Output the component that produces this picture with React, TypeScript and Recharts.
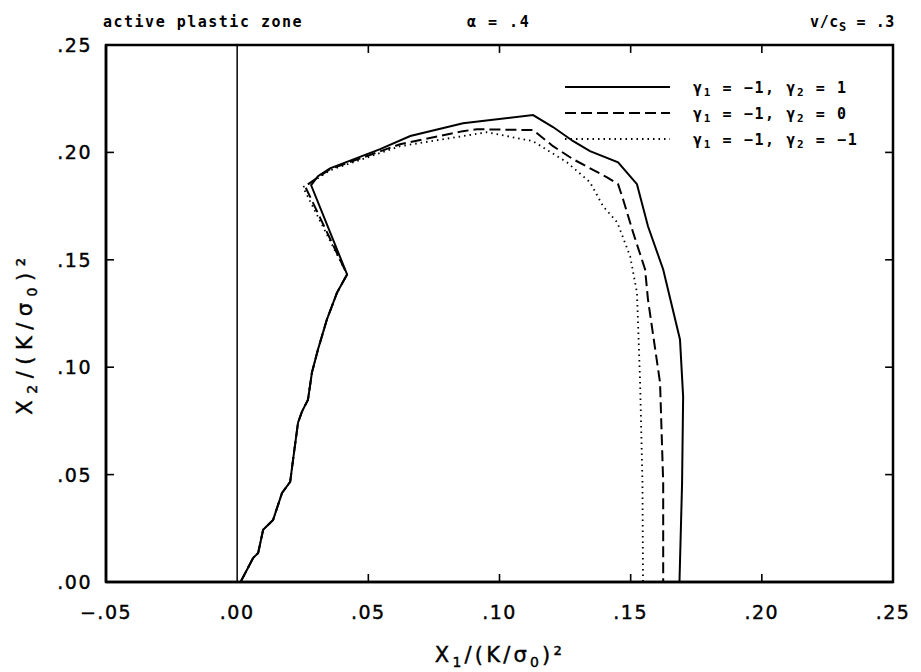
import React from 'react';
import { LineChart, Line, XAxis, YAxis, ReferenceLine, ReferenceArea, Legend } from 'recharts';

// lower branch, shared by all three cases (origin up to the kink)
const lowerX = [0.0013, 0.0061, 0.008, 0.0099, 0.0137, 0.0171, 0.0202, 0.0213, 0.0232, 0.0247, 0.027, 0.0285, 0.0308, 0.0342, 0.0381, 0.0419];
const lowerY = [0, 0.0112, 0.0135, 0.0243, 0.0289, 0.0415, 0.0466, 0.0569, 0.0742, 0.0793, 0.0849, 0.0975, 0.1082, 0.1222, 0.1348, 0.1432];

// gamma2 = 1 (solid)
const solidX = [0.0282, 0.0308, 0.0354, 0.0545, 0.066, 0.0861, 0.1128, 0.1204, 0.1281, 0.1345, 0.1452, 0.1524, 0.1566, 0.1624, 0.1688, 0.17, 0.1696, 0.1686];
const solidY = [0.1847, 0.1889, 0.1926, 0.2015, 0.2076, 0.2136, 0.2174, 0.2118, 0.2052, 0.2006, 0.1954, 0.1852, 0.1656, 0.1455, 0.1129, 0.0863, 0.0462, 0];

// gamma2 = 0 (dashed)
const dashedX = [0.0259, 0.0308, 0.0354, 0.0621, 0.0861, 0.0914, 0.1128, 0.1204, 0.1281, 0.141, 0.1452, 0.1471, 0.1509, 0.1555, 0.1566, 0.1612, 0.1624, 0.1624];
const dashedY = [0.1842, 0.1884, 0.1922, 0.2038, 0.2099, 0.2108, 0.2104, 0.2029, 0.1968, 0.1884, 0.1852, 0.1782, 0.1628, 0.1455, 0.1315, 0.0928, 0.0462, 0];

// gamma2 = -1 (dotted)
const dottedX = [0.0251, 0.0308, 0.0354, 0.0621, 0.0952, 0.1128, 0.1257, 0.1345, 0.1395, 0.1449, 0.1498, 0.1524, 0.1536, 0.1545, 0.1547];
const dottedY = [0.1838, 0.188, 0.1917, 0.2029, 0.2094, 0.2052, 0.1954, 0.1861, 0.1749, 0.1674, 0.1516, 0.1348, 0.0928, 0.0462, 0];

const xTicks = [-0.05, 0, 0.05, 0.1, 0.15, 0.2, 0.25];
const yTicks = [0, 0.05, 0.1, 0.15, 0.2, 0.25];
const innerTicks = [0.05, 0.1, 0.15, 0.2];

const legendItems = [
  { g2: '1', dash: undefined },
  { g2: '0', dash: '11 5' },
  { g2: '−1', dash: '1.5 4' },
];

const toPoints = (xs: number[], ys: number[]) => xs.map((x, i) => ({ x, y: ys[i] }));
const lower = toPoints(lowerX, lowerY);
const solid = [...lower, ...toPoints(solidX, solidY)];
const dashed = [...lower, ...toPoints(dashedX, dashedY)];
const dotted = [...lower, ...toPoints(dottedX, dottedY)];

const isInner = (v: any) => innerTicks.some((t) => Math.abs(Number(v) - t) < 1e-6);

const fmt = (v: number) => {
  const s = Math.abs(v).toFixed(2).replace(/^0/, '');
  return v < 0 ? '−' + s : s;
};

const tickFont = { fontFamily: 'DejaVu Sans, sans-serif', fontSize: 19, letterSpacing: 1.5, fill: '#000', stroke: '#000', strokeWidth: 0.4 };
const monoFont = "'DejaVu Sans Mono', monospace";
const TICK = 8;
// inward tick length on the top / right edges, in axis units (about 8px)
const TICK_X = 0.003;
const TICK_Y = 0.0037;

function BottomTick(props: any) {
  const { x, y, payload } = props;
  return (
    <g>
      {isInner(payload.value) && <path d={`M${x},${y}V${y - TICK}`} stroke="#000" strokeWidth={1.6} fill="none" />}
      <text x={x} y={y + 37} textAnchor="middle" {...tickFont}>{fmt(payload.value)}</text>
    </g>
  );
}

function LeftTick(props: any) {
  const { x, y, payload } = props;
  return (
    <g>
      {isInner(payload.value) && <path d={`M${x},${y}H${x + TICK}`} stroke="#000" strokeWidth={1.6} fill="none" />}
      <text x={x - 14} y={y + 7} textAnchor="end" {...tickFont}>{fmt(payload.value)}</text>
    </g>
  );
}

const axisTitleFont = { fontFamily: 'DejaVu Sans, sans-serif', fill: '#000', stroke: '#000', strokeWidth: 0.4 };

function XTitle() {
  return (
    <text x={500} y={662} textAnchor="middle" fontSize={21} letterSpacing={3.2} {...axisTitleFont}>
      X<tspan dy={5} fontSize={14}>1</tspan>
      <tspan dy={-5}>/(K/σ</tspan>
      <tspan dy={5} fontSize={14}>0</tspan>
      <tspan dy={-5}>)²</tspan>
    </text>
  );
}

function YTitle() {
  return (
    <text x={0} y={0} transform="translate(32,333) rotate(-90)" textAnchor="middle" fontSize={21} letterSpacing={6.5} {...axisTitleFont}>
      X<tspan dy={5} fontSize={14}>2</tspan>
      <tspan dy={-5}>/(K/σ</tspan>
      <tspan dy={5} fontSize={14}>0</tspan>
      <tspan dy={-5}>)²</tspan>
    </text>
  );
}

function LegendBox() {
  return (
    <svg width={330} height={90}>
      {legendItems.map((it, i) => {
        const cy = 14 + i * 26;
        return (
          <g key={i}>
            <line x1={5} x2={110} y1={cy} y2={cy} stroke="#000" strokeWidth={2} strokeDasharray={it.dash} />
            <text x={133} y={cy + 6} fontFamily={monoFont} fontWeight="bold" fontSize={15} letterSpacing={1.6} fill="#000">
              γ<tspan dy={3} fontSize={11}>1</tspan>
              <tspan dy={-3}> = −1, γ</tspan>
              <tspan dy={3} fontSize={11}>2</tspan>
              <tspan dy={-3}> = {it.g2}</tspan>
            </text>
          </g>
        );
      })}
    </svg>
  );
}

const titleStyle: React.CSSProperties = {
  position: 'absolute',
  top: 13,
  fontFamily: monoFont,
  fontWeight: 'bold',
  fontSize: 15,
  letterSpacing: 1.5,
  color: '#000',
  whiteSpace: 'nowrap',
};

const frame = { stroke: '#000', strokeWidth: 2.5 };
const tickStroke = { stroke: '#000', strokeWidth: 1.6, ifOverflow: 'visible' as const };

export default function App() {
  return (
    <div style={{ position: 'absolute', left: 0, top: 0, width: 921, height: 672, background: '#fff' }}>
      <LineChart width={921} height={672} margin={{ top: 45, right: 28, bottom: 60, left: 46 }}>
        <XAxis
          type="number"
          dataKey="x"
          domain={[-0.05, 0.25]}
          ticks={xTicks}
          interval={0}
          height={30}
          tickSize={0}
          tickMargin={0}
          tickLine={false}
          tick={<BottomTick />}
          axisLine={frame}
          allowDataOverflow
          label={<XTitle />}
        />
        <YAxis
          type="number"
          dataKey="y"
          domain={[0, 0.25]}
          ticks={yTicks}
          interval={0}
          width={60}
          tickSize={0}
          tickMargin={0}
          tickLine={false}
          tick={<LeftTick />}
          axisLine={frame}
          allowDataOverflow
          label={<YTitle />}
        />
        <ReferenceArea x1={-0.05} x2={0.25} y1={0} y2={0.25} fill="none" {...frame} ifOverflow="visible" />
        {innerTicks.map((t) => (
          <ReferenceLine key={'t' + t} segment={[{ x: t, y: 0.25 }, { x: t, y: 0.25 - TICK_Y }]} {...tickStroke} />
        ))}
        {innerTicks.map((t) => (
          <ReferenceLine key={'r' + t} segment={[{ x: 0.25, y: t }, { x: 0.25 - TICK_X, y: t }]} {...tickStroke} />
        ))}
        <ReferenceLine x={0} stroke="#000" strokeWidth={1.5} />
        <Line data={solid} dataKey="y" type="linear" stroke="#000" strokeWidth={2} dot={false} activeDot={false} isAnimationActive={false} />
        <Line data={dashed} dataKey="y" type="linear" stroke="#000" strokeWidth={2} strokeDasharray="11 5" dot={false} activeDot={false} isAnimationActive={false} />
        <Line data={dotted} dataKey="y" type="linear" stroke="#000" strokeWidth={1.8} strokeDasharray="1.5 4" dot={false} activeDot={false} isAnimationActive={false} />
        <Legend
          layout="horizontal"
          verticalAlign="middle"
          align="center"
          content={<LegendBox />}
          wrapperStyle={{ position: 'absolute', left: 560, top: 73, width: 330, bottom: 'auto' }}
        />
      </LineChart>
      <div style={{ ...titleStyle, left: 103 }}>active plastic zone</div>
      <div style={{ ...titleStyle, left: 467 }}>α = .4</div>
      <div style={{ ...titleStyle, right: 26, letterSpacing: 0.6 }}>
        v/c<span style={{ fontSize: 12, position: 'relative', top: 4 }}>S</span> = .3
      </div>
    </div>
  );
}
